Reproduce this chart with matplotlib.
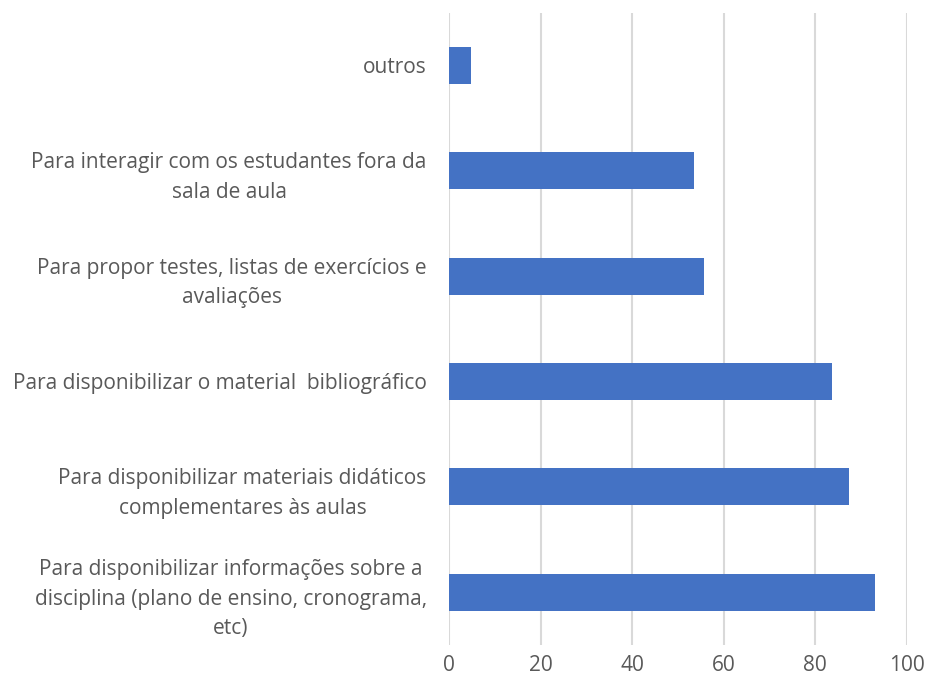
import matplotlib
matplotlib.use('Agg')
import matplotlib.pyplot as plt

labels = [
    'outros',
    'Para interagir com os estudantes fora da\nsala de aula',
    'Para propor testes, listas de exercícios e\navaliações',
    'Para disponibilizar o material  bibliográfico',
    'Para disponibilizar materiais didáticos\ncomplementares às aulas',
    'Para disponibilizar informações sobre a\ndisciplina (plano de ensino, cronograma,\netc)',
]
values = [4.9, 53.5, 55.7, 83.6, 87.5, 93.1]
xticks = [0, 20, 40, 60, 80, 100]

plt.rcParams['font.family'] = ['Open Sans', 'DejaVu Sans']

fig = plt.figure(figsize=(9.28, 6.86), dpi=100)
ax = fig.add_axes([0.4838, 0.0598, 0.4932, 0.9218])

pos = range(len(labels))
ax.barh(pos, values, height=0.35, color='#4472C4', zorder=3)
ax.set_ylim(len(labels) - 0.5, -0.5)
ax.set_xlim(0, 100)
ax.set_xticks(xticks)
ax.set_yticks(list(pos))
ax.set_yticklabels(labels, multialignment='center', linespacing=1.55)

ax.grid(axis='x', color='#d9d9d9', linewidth=1.5, zorder=0)
for s in ax.spines.values():
    s.set_visible(False)
ax.tick_params(axis='both', length=0, labelcolor='#595959')
ax.tick_params(axis='y', pad=16, labelsize=15)
ax.tick_params(axis='x', pad=7, labelsize=15)

fig.savefig('out.png', dpi=100)
